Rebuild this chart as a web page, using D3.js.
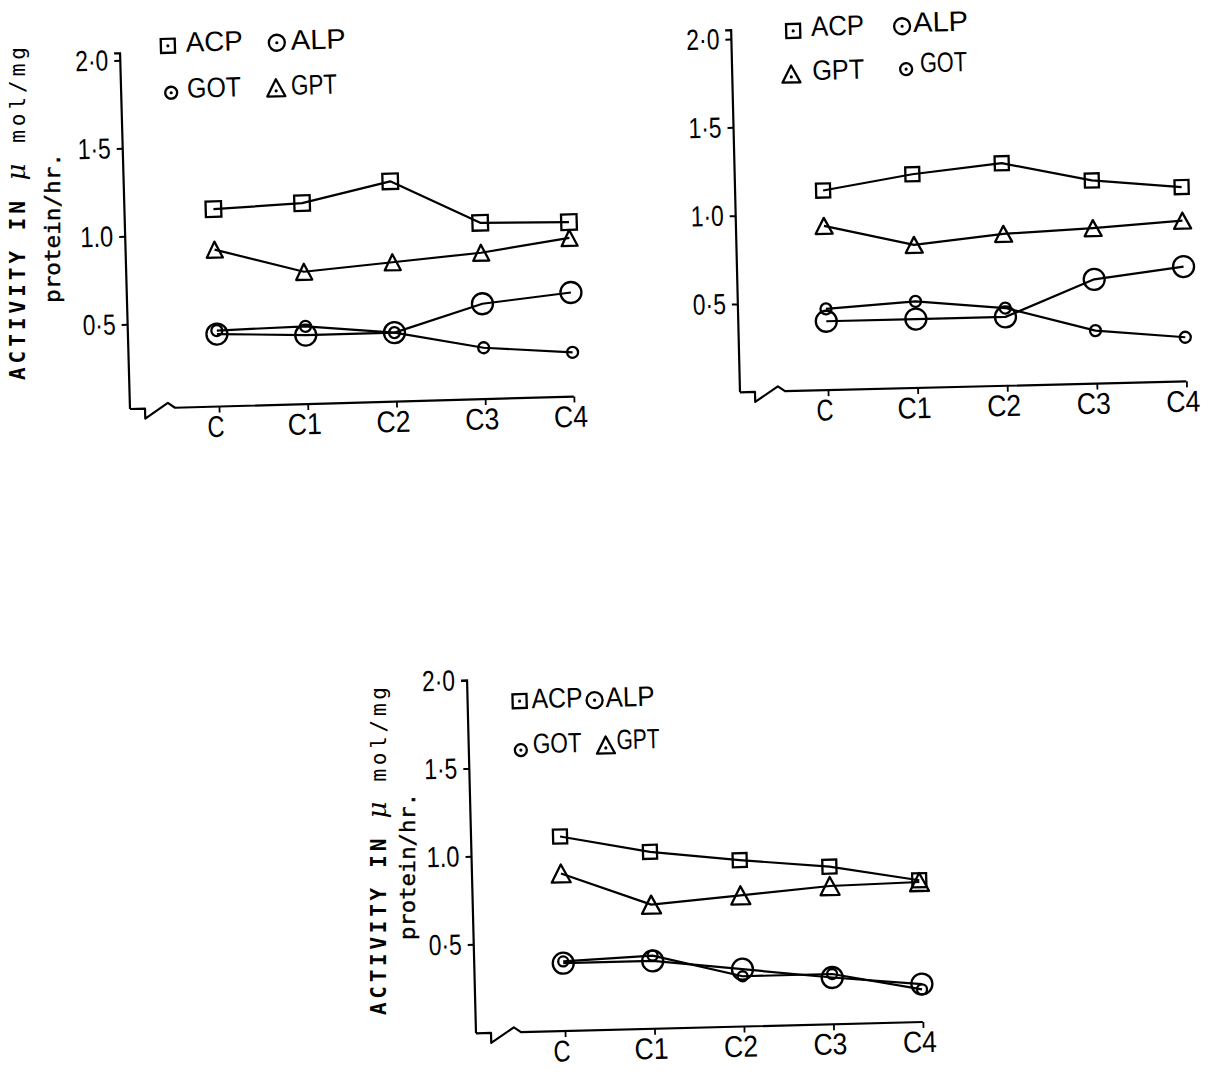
<!DOCTYPE html>
<html><head><meta charset="utf-8">
<script src="https://cdn.jsdelivr.net/npm/d3@7"></script>
<style>body{margin:0;background:#fff}svg{display:block}</style>
</head><body>
<svg id="chart" width="1211" height="1076"></svg>
<script>
// ---------- data ----------
const categories = ["C", "C1", "C2", "C3", "C4"];
const seriesKeys = ["ACP", "GPT", "ALP", "GOT"];
const tickValues = [0.5, 1.0, 1.5, 2.0];

// panel A (top left)
const acpA = [1.14, 1.16, 1.27, 1.02, 1.01];
const gptA = [0.91, 0.77, 0.81, 0.85, 0.92];
const alpA = [0.43, 0.41, 0.41, 0.56, 0.61];
const gotA = [0.45, 0.46, 0.41, 0.31, 0.27];
const tickLabelsA = ["0·5", "1.0", "1·5", "2·0"];
const legendOrderA = ["ACP", "ALP", "GOT", "GPT"];

// panel B (top right)
const acpB = [1.13, 1.21, 1.26, 1.15, 1.10];
const gptB = [0.93, 0.81, 0.86, 0.88, 0.91];
const alpB = [0.39, 0.39, 0.39, 0.59, 0.65];
const gotB = [0.46, 0.49, 0.44, 0.30, 0.25];
const tickLabelsB = ["0·5", "1·0", "1·5", "2·0"];
const legendOrderB = ["ACP", "ALP", "GPT", "GOT"];

// panel C (bottom)
const acpC = [1.10, 1.00, 0.94, 0.89, 0.80];
const gptC = [0.89, 0.70, 0.74, 0.78, 0.79];
const alpC = [0.38, 0.38, 0.32, 0.26, 0.21];
const gotC = [0.39, 0.41, 0.28, 0.28, 0.18];
const tickLabelsC = ["0·5", "1.0", "1·5", "2·0"];
const legendOrderC = ["ACP", "ALP", "GOT", "GPT"];

const yTitleLine1 = ["ACTIVITY IN", "μ", "mol/mg"];
const yTitleLine2 = "protein/hr.";

// ---------- layout ----------
const FONT = "'Liberation Sans',Arial,sans-serif";
const MONO = "'DejaVu Sans Mono','Liberation Mono',monospace";

const panels = [
  { data: {ACP: acpA, GPT: gptA, ALP: alpA, GOT: gotA}, ticks: tickLabelsA, legend: legendOrderA,
    ox: 130, oy: 409, angle: -1.6, k: 176, c: 3.2, vTop: 2.04, xFirst: 89, xLast: 444,
    sq: 15.5, tri: [16, 16], rBig: 10.5, rSmall: 5.5, legW: [57, 55, 54, 46],
    leg: [[48, -362, 66, -355.5], [157, -362, 171, -354.5], [50, -315, 66, -309.5], [155, -317, 170, -309.5]],
    title: {b1: 25, b2: 60, s1: 380, e1: 47, s2: 303, e2: 153} },
  { data: {ACP: acpB, GPT: gptB, ALP: alpB, GOT: gotB}, ticks: tickLabelsB, legend: legendOrderB,
    ox: 740, oy: 392.3, angle: -1.4, k: 176.7, c: 0, vTop: 2.05, xFirst: 88, xLast: 446.5,
    sq: 14, tri: [17, 16], rBig: 10.5, rSmall: 5.5, legW: [53, 55, 52, 47],
    leg: [[62, -360, 80, -354.5], [171, -362, 182, -356], [59, -317, 80, -310.5], [174, -319, 188, -315.5]],
    title: null },
  { data: {ACP: acpC, GPT: gptC, ALP: alpC, GOT: gotC}, ticks: tickLabelsC, legend: legendOrderC,
    ox: 476, oy: 1033.3, angle: -1.45, k: 176, c: -1, vTop: 2.0, xFirst: 89, xLast: 447,
    sq: 14, tri: [19, 18], rBig: 10.5, rSmall: 5, legW: [51, 49, 49, 43],
    leg: [[52, -331, 64, -323.5], [127, -330, 138, -323], [52, -282, 64, -278.5], [137, -285, 148, -280.5]],
    title: {b1: 386, b2: 415, s1: 1015, e1: 687, s2: 940, e2: 793} }
];

const svg = d3.select("#chart");
svg.append("rect").attr("width", 1211).attr("height", 1076).attr("fill", "#fff");

function drawMarker(sel, key, cx, cy, p, legend) {
  const sw = 2.3;
  if (key === "ACP") {
    const s = legend ? 14 : p.sq;
    sel.append("rect").attr("x", cx - s / 2).attr("y", cy - s / 2).attr("width", s).attr("height", s)
      .attr("fill", "none").attr("stroke", "#000").attr("stroke-width", sw);
  } else if (key === "GPT") {
    const [w, h] = legend ? [18, 17] : p.tri;
    sel.append("path").attr("d", `M${cx},${cy - h / 2}L${cx + w / 2},${cy + h / 2}L${cx - w / 2},${cy + h / 2}Z`)
      .attr("fill", "none").attr("stroke", "#000").attr("stroke-width", sw).attr("stroke-linejoin", "round");
  } else {
    const r = key === "ALP" ? (legend ? 8 : p.rBig) : (legend ? 6 : p.rSmall);
    sel.append("circle").attr("cx", cx).attr("cy", cy).attr("r", r)
      .attr("fill", "none").attr("stroke", "#000").attr("stroke-width", sw);
  }
  if (legend) {
    const dy = key === "GPT" ? 3 : 0;
    sel.append("circle").attr("cx", cx).attr("cy", cy + dy).attr("r", 1.6).attr("fill", "#000");
  }
}

panels.forEach(p => {
  const g = svg.append("g").attr("transform", `translate(${p.ox},${p.oy}) rotate(${p.angle})`);
  const x = d3.scalePoint().domain(categories).range([p.xFirst, p.xLast]);
  const y = d3.scaleLinear().domain([0, 2]).range([p.c, p.c - 2 * p.k]);
  const yAx = d3.scaleLinear().domain([y.invert(0), p.vTop]).range([0, y(p.vTop)]);

  // y axis
  const ya = g.append("g").call(
    d3.axisLeft(yAx).tickValues(tickValues).tickFormat((d, i) => p.ticks[i])
      .tickSize(6).tickSizeOuter(0).tickPadding(6));
  ya.attr("font-family", null).attr("font-size", null);
  ya.select(".domain").attr("d", `M-6,${yAx(p.vTop)}H0V0`).attr("stroke-width", 2.2);
  ya.selectAll(".tick line").attr("stroke-width", 2);
  ya.selectAll(".tick text").style("font-family", FONT).style("font-size", "29px").attr("fill", "#000")
    .attr("textLength", 33).attr("lengthAdjust", "spacingAndGlyphs");

  // x axis
  const xa = g.append("g").call(d3.axisBottom(x).tickSize(6).tickSizeOuter(0).tickPadding(3));
  xa.attr("font-family", null).attr("font-size", null);
  xa.select(".domain").attr("d", `M0,0H15V10L38,-5L45,0H${p.xLast}`).attr("stroke-width", 2.2)
    .attr("stroke-linejoin", "round");
  xa.selectAll(".tick line").attr("stroke-width", 1.8);
  xa.selectAll(".tick text").style("font-family", FONT).style("font-size", "30px")
    .attr("dx", -4).attr("fill", "#000")
    .attr("textLength", d => d.length > 1 ? 34 : 17).attr("lengthAdjust", "spacingAndGlyphs");

  // series lines
  const line = d3.line().x((d, i) => x(categories[i])).y(d => y(d));
  seriesKeys.forEach(key => {
    g.append("path").datum(p.data[key]).attr("d", line)
      .attr("fill", "none").attr("stroke", "#000").attr("stroke-width", 2.2).attr("stroke-linejoin", "round");
  });
  // markers
  seriesKeys.forEach(key => {
    const mg = g.append("g");
    p.data[key].forEach((v, i) => drawMarker(mg, key, x(categories[i]), y(v), p, false));
  });

  // legend
  p.legend.forEach((key, i) => {
    const [sx, sy, tx, ty] = p.leg[i];
    const lg = g.append("g");
    drawMarker(lg, key, sx, sy, p, true);
    lg.append("text").attr("x", tx).attr("y", ty).text(key)
      .style("font-family", FONT).style("font-size", "28px").attr("fill", "#000")
      .attr("textLength", p.legW[i]).attr("lengthAdjust", "spacingAndGlyphs");
  });

  // y title
  if (p.title) {
    const t = p.title;
    const t1 = svg.append("text")
      .attr("transform", `translate(${t.b1},${t.s1}) rotate(-90)`)
      .attr("textLength", t.s1 - t.e1).attr("lengthAdjust", "spacing")
      .attr("fill", "#000");
    t1.append("tspan").text(yTitleLine1[0] + " ").style("font-family", MONO).style("font-weight", "bold").style("font-size", "21px");
    t1.append("tspan").text(yTitleLine1[1]).style("font-family", "'DejaVu Serif',serif").style("font-style", "italic").style("font-size", "26px");
    t1.append("tspan").text(" " + yTitleLine1[2]).style("font-family", MONO).style("font-size", "21px");
    svg.append("text")
      .attr("transform", `translate(${t.b2},${t.s2}) rotate(-90)`)
      .attr("textLength", t.s2 - t.e2).attr("lengthAdjust", "spacingAndGlyphs")
      .style("font-family", MONO).style("font-size", "22px").attr("fill", "#000")
      .attr("stroke", "#000").attr("stroke-width", 0.4)
      .text(yTitleLine2);
  }
});
</script>
</body></html>
